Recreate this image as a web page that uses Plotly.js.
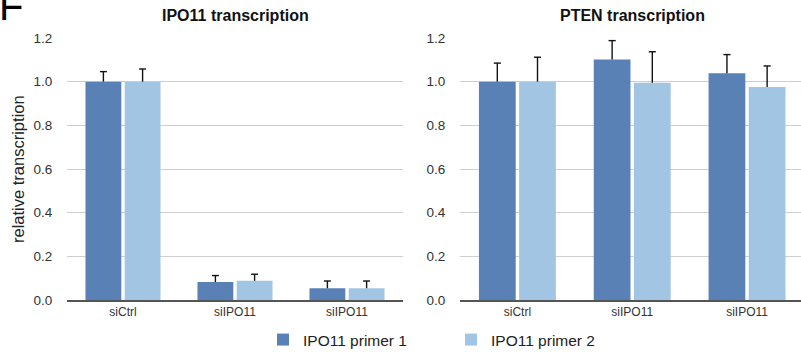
<!DOCTYPE html>
<html><head><meta charset="utf-8">
<script src="https://cdn.plot.ly/plotly-3.0.1.min.js"></script>
<style>html,body{margin:0;padding:0;background:#fff}#chart{width:801px;height:352px}</style>
</head><body><div id="chart"></div>
<script>
const categoryIndex = [0, 1, 2];
const tickLabels = ['siCtrl', 'siIPO11', 'siIPO11'];
const seriesNames = ['IPO11 primer 1', 'IPO11 primer 2'];
const ipo11Primer1 = [1.0, 0.082, 0.054];
const ipo11Primer1Err = [0.046, 0.030, 0.033];
const ipo11Primer2 = [1.0, 0.088, 0.054];
const ipo11Primer2Err = [0.058, 0.030, 0.033];
const ptenPrimer1 = [1.0, 1.102, 1.038];
const ptenPrimer1Err = [0.085, 0.086, 0.086];
const ptenPrimer2 = [1.0, 0.995, 0.976];
const ptenPrimer2Err = [0.112, 0.142, 0.096];
const panelTitles = ['IPO11 transcription', 'PTEN transcription'];
const yTitle = 'relative transcription';

const c1 = '#5A81B6', c2 = '#A2C5E4';
const BW = 0.32, GAP = 0.015, CAP = 0.031;
const font = {family:'Liberation Sans, Arial, sans-serif', color:'#333'};

function bar(vals, name, color, first, xa, ya, legend) {
  return {type:'bar', x:categoryIndex, y:vals, width:BW, offset: first ? -(BW+GAP) : GAP,
    name:name, marker:{color:color, line:{width:0}}, xaxis:xa, yaxis:ya, showlegend:legend, hoverinfo:'skip'};
}
function errLines(vals, errs, first, xa, ya) {
  const shift = first ? -(GAP + BW/2) : (GAP + BW/2);
  const xs = [], ys = [];
  categoryIndex.forEach((c, i) => {
    const cx = c + shift, top = vals[i] + errs[i];
    xs.push(cx, cx, null, cx - CAP, cx + CAP, null);
    ys.push(vals[i], top, null, top, top, null);
  });
  return {type:'scatter', mode:'lines', x:xs, y:ys, xaxis:xa, yaxis:ya, showlegend:false,
    line:{color:'#111', width:1.4}, hoverinfo:'skip', connectgaps:false};
}

const data = [
  bar(ipo11Primer1, seriesNames[0], c1, true, 'x', 'y', true),
  bar(ipo11Primer2, seriesNames[1], c2, false, 'x', 'y', true),
  bar(ptenPrimer1, seriesNames[0], c1, true, 'x2', 'y2', false),
  bar(ptenPrimer2, seriesNames[1], c2, false, 'x2', 'y2', false),
  errLines(ipo11Primer1, ipo11Primer1Err, true, 'x', 'y'),
  errLines(ipo11Primer2, ipo11Primer2Err, false, 'x', 'y'),
  errLines(ptenPrimer1, ptenPrimer1Err, true, 'x2', 'y2'),
  errLines(ptenPrimer2, ptenPrimer2Err, false, 'x2', 'y2')
];

const yax = (anchor) => ({anchor:anchor, range:[0,1.2], tickvals:[0,0.2,0.4,0.6,0.8,1.0,1.2], tickformat:'.1f',
  showgrid:true, gridcolor:'#cfcfcf', gridwidth:1, zeroline:false, showline:false,
  ticks:'outside', ticklen:11, tickcolor:'rgba(0,0,0,0)', tickfont:{size:13.5, color:'#333'}, domain:[0,1]});
const xax = (dom, rng, anchor) => ({domain:dom, anchor:anchor, range:rng, tickmode:'array', tickvals:categoryIndex, ticktext:tickLabels,
  showline:true, linecolor:'#555', linewidth:1.6, showgrid:false, zeroline:false, ticks:'', tickfont:{size:12, color:'#333'}});

const layout = {
  width:801, height:352, margin:{l:0, r:0, t:38, b:52, autoexpand:false},
  paper_bgcolor:'#fff', plot_bgcolor:'#fff', font:font,
  barmode:'overlay',
  xaxis: xax([67/801, 403/801], [-0.5, 2.5], 'y'),
  yaxis: yax('x'),
  xaxis2: xax([460/801, 1], [-0.5, 2.47], 'y2'),
  yaxis2: yax('x2'),
  showlegend:true,
  legend:{orientation:'h', xref:'container', yref:'container', x:263/801, xanchor:'left', y:(352-323)/352, yanchor:'top',
    font:{size:15.5, color:'#222'}, itemwidth:30, traceorder:'normal', entrywidth:143},
  annotations:[
    {text:'<b>'+panelTitles[0]+'</b>', xref:'paper', yref:'paper', x:235/801, y:1.085, xanchor:'center', yanchor:'middle', showarrow:false, font:{size:16, color:'#111'}},
    {text:'<b>'+panelTitles[1]+'</b>', xref:'paper', yref:'paper', x:632/801, y:1.085, xanchor:'center', yanchor:'middle', showarrow:false, font:{size:16, color:'#111'}},
    {text:yTitle, xref:'paper', yref:'paper', x:18/801, y:(300-169)/262, xanchor:'center', yanchor:'middle', textangle:-90, showarrow:false, font:{size:16.5, color:'#222'}},
    {text:'F', xref:'paper', yref:'paper', x:-0.004, y:1.215, xanchor:'left', yanchor:'top', showarrow:false, font:{size:40, color:'#000'}}
  ]
};
Plotly.newPlot('chart', data, layout, {displayModeBar:false, staticPlot:true});
</script></body></html>
